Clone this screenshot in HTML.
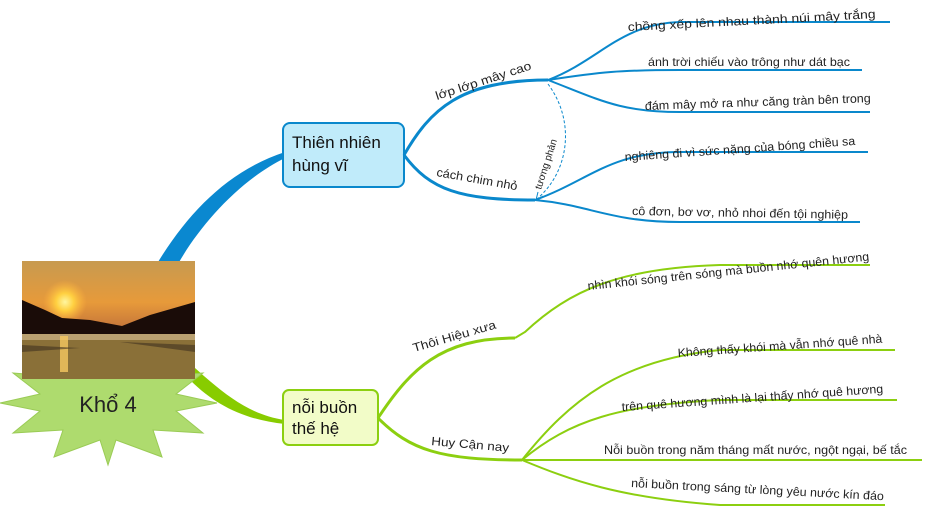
<!DOCTYPE html>
<html><head><meta charset="utf-8"><style>
html,body{margin:0;padding:0;background:#fff;}
svg{display:block;font-family:"Liberation Sans",sans-serif;}
</style></head><body>
<svg width="930" height="518" viewBox="0 0 930 518" xmlns="http://www.w3.org/2000/svg">
<defs>
<linearGradient id="sky" x1="0" y1="0" x2="0" y2="1">
<stop offset="0" stop-color="#c79a50"/><stop offset="0.35" stop-color="#e79a3a"/><stop offset="0.55" stop-color="#c8793a"/><stop offset="1" stop-color="#7a6a30"/>
</linearGradient>
<radialGradient id="sun" cx="0.5" cy="0.5" r="0.5"><stop offset="0" stop-color="#fff6a0"/><stop offset="0.4" stop-color="#ffd040"/><stop offset="1" stop-color="#ffb040" stop-opacity="0"/></radialGradient>
</defs>
<path d="M158,262 C190,210 230,170 285,152 L285,158 C240,180 200,225 178,264 Z" fill="#0a88d0"/>
<path d="M195,368 C225,395 250,415 285,420 L285,424 C245,420 215,405 190,380 Z" fill="#88cc00"/>
<polygon fill="#aedb6e" stroke="#9acb55" stroke-width="1" points="108,465 116,440 162,457 153,430 203,433 176,411 217,403 176,394 203,373 153,377 162,350 116,365 108,340 100,365 54,350 63,377 13,373 40,394 0,403 40,411 13,433 63,430 54,457 100,440"/>
<rect x="22" y="261" width="173" height="118" fill="url(#sky)"/>
<circle cx="65" cy="302" r="22" fill="url(#sun)"/>
<path d="M22,300 L45,310 L62,318 L90,320 L122,326 L150,315 L195,302 L195,334 L22,334 Z" fill="#1a0c08"/>
<rect x="22" y="334" width="173" height="6" fill="#b9a070"/>
<rect x="22" y="340" width="173" height="39" fill="#8a7038"/>
<rect x="60" y="336" width="8" height="36" fill="#f5c860" opacity="0.8"/>
<path d="M22,345 L80,348 L22,352 Z M120,342 L195,345 L195,352 Z" fill="#403020" opacity="0.6"/>
<text x="108" y="412" font-size="22" text-anchor="middle" fill="#222">Khổ 4</text>
<rect x="283" y="123" width="121" height="64" rx="7" fill="#c0ebfa" stroke="#0a88cc" stroke-width="2"/>
<text font-size="17" fill="#111"><tspan x="292" y="148">Thiên nhiên</tspan><tspan x="292" y="171">hùng vĩ</tspan></text>
<rect x="283" y="390" width="95" height="55" rx="6" fill="#f2fcc8" stroke="#8ccf10" stroke-width="2"/>
<text font-size="17" fill="#111"><tspan x="292" y="413">nỗi buồn</tspan><tspan x="292" y="434">thế hệ</tspan></text>
<g fill="none" stroke="#0a88cc" stroke-width="3">
<path d="M404,155 C430,110 460,80 548,80"/>
<path d="M404,155 C430,190 460,200 535,200"/>
</g>
<g fill="none" stroke="#0a88cc" stroke-width="2">
<path d="M548,80 C600,60 620,24 680,22 L890,22"/>
<path d="M548,80 C600,72 620,70 680,70 L862,70"/>
<path d="M548,80 C600,100 620,112 680,112 L870,112"/>
<path d="M535,200 C590,180 610,152 680,152 L868,152"/>
<path d="M535,200 C590,205 610,222 680,222 L860,222"/>
</g>
<path d="M548,84 C575,120 570,170 538,198" fill="none" stroke="#0a88cc" stroke-width="1" stroke-dasharray="3,2"/>
<path d="M536,200 L538,192 M536,200 L543,196" stroke="#0a88cc" stroke-width="1"/>
<g font-size="12" fill="#222" lengthAdjust="spacingAndGlyphs">
<text x="0" y="0" transform="translate(437,100) rotate(-18)" textLength="100" lengthAdjust="spacingAndGlyphs">lớp lớp mây cao</text>
<text x="0" y="0" transform="translate(436,176) rotate(10)" textLength="82" lengthAdjust="spacingAndGlyphs">cách chim nhỏ</text>
<text x="0" y="0" font-size="10" transform="translate(541,190) rotate(-72)">tương phản</text>
<text x="0" y="0" transform="translate(628,31) rotate(-3)" textLength="248" lengthAdjust="spacingAndGlyphs">chồng xếp lên nhau thành núi mây trắng</text>
<text x="648" y="66" textLength="202" lengthAdjust="spacingAndGlyphs">ánh trời chiếu vào trông như dát bạc</text>
<text x="0" y="0" transform="translate(645,110) rotate(-2)" textLength="226" lengthAdjust="spacingAndGlyphs">đám mây mở ra như căng tràn bên trong</text>
<text x="0" y="0" transform="translate(625,161) rotate(-4)" textLength="231" lengthAdjust="spacingAndGlyphs">nghiêng đi vì sức nặng của bóng chiều sa</text>
<text x="0" y="0" transform="translate(632,215) rotate(1)" textLength="216" lengthAdjust="spacingAndGlyphs">cô đơn, bơ vơ, nhỏ nhoi đến tội nghiệp</text>
</g>
<g fill="none" stroke="#8ccf10" stroke-width="3">
<path d="M378,418 C410,370 440,338 515,338"/>
<path d="M378,418 C410,450 440,460 522,460"/>
</g>
<g fill="none" stroke="#8ccf10" stroke-width="2">
<path d="M515,338 L525,332 C570,290 620,268 720,265 L870,265"/>
<path d="M522,460 C570,400 620,360 720,350 L895,350"/>
<path d="M522,460 C570,420 620,405 720,400 L897,400"/>
<path d="M522,460 L922,460"/>
<path d="M522,460 C570,480 620,498 720,505 L885,505"/>
</g>
<g font-size="12" fill="#222">
<text x="0" y="0" transform="translate(414,352) rotate(-16)" textLength="86" lengthAdjust="spacingAndGlyphs">Thôi Hiệu xưa</text>
<text x="0" y="0" transform="translate(431,445) rotate(5)" textLength="78" lengthAdjust="spacingAndGlyphs">Huy Cận nay</text>
<text x="0" y="0" transform="translate(588,290) rotate(-6)" textLength="283" lengthAdjust="spacingAndGlyphs">nhìn khói sóng trên sóng mà buồn nhớ quên hương</text>
<text x="0" y="0" transform="translate(678,357) rotate(-4)" textLength="205" lengthAdjust="spacingAndGlyphs">Không thấy khói mà vẫn nhớ quê nhà</text>
<text x="0" y="0" transform="translate(622,411) rotate(-4)" textLength="262" lengthAdjust="spacingAndGlyphs">trên quê hương mình là lại thấy nhớ quê hương</text>
<text x="604" y="454" textLength="303" lengthAdjust="spacingAndGlyphs">Nỗi buồn trong năm tháng mất nước, ngột ngại, bế tắc</text>
<text x="0" y="0" transform="translate(631,487) rotate(3)" textLength="253" lengthAdjust="spacingAndGlyphs">nỗi buồn trong sáng từ lòng yêu nước kín đáo</text>
</g>
</svg>
</body></html>
